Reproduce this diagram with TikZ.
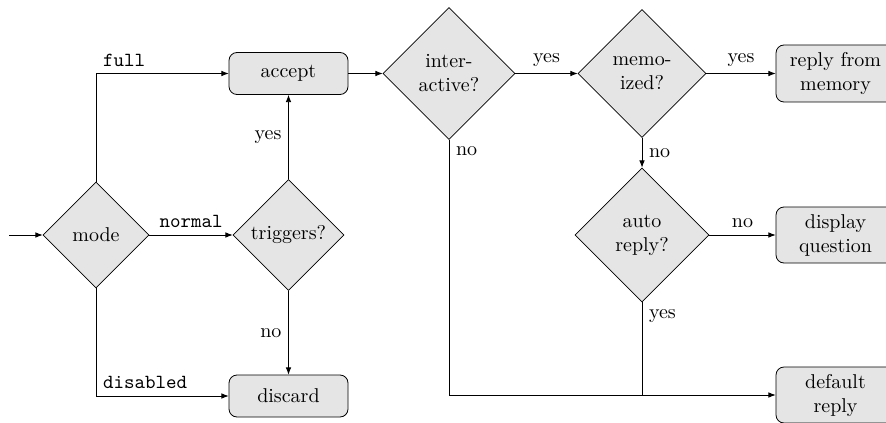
\documentclass[tikz,border=0pt]{standalone}
\usetikzlibrary{shapes.geometric,arrows.meta}
\begin{document}
\begin{tikzpicture}[x=0.5pt,y=-0.5pt,
  >={Latex[length=3.6pt,width=2.8pt]},
  dec/.style={diamond, draw, fill=gray!20, inner sep=0pt, align=center},
  box/.style={rectangle, rounded corners=4pt, draw, fill=gray!20, minimum width=59.5pt, align=center, inner sep=2pt},
  ttl/.style={font=\ttfamily}
]
\useasboundingbox (0,0) rectangle (886,422);
\clip (0,0) rectangle (886,422);

\coordinate (start) at (9,235);
\node[dec, minimum width=53pt, minimum height=53pt] (mode) at (96,235) {mode};
\node[dec, minimum width=55.5pt, minimum height=55.5pt] (trig) at (288.5,235) {triggers?};
\node[box, minimum height=21pt] (accept) at (288.5,73.5) {accept};
\node[box, minimum height=21pt] (discard) at (288.5,396) {discard};
\node[dec, minimum width=66pt, minimum height=66pt] (inter) at (449,73.5) {inter-\\active?};
\node[dec, minimum width=64pt, minimum height=64pt] (memo) at (642,73.5) {memo-\\ized?};
\node[box, minimum height=28.5pt] (rmem) at (835.5,73.5) {reply from\\memory};
\node[dec, minimum width=67pt, minimum height=67pt] (auto) at (642,235) {auto\\reply?};
\node[box, minimum height=28pt] (disp) at (835.5,235) {display\\question};
\node[box, minimum height=28pt] (def) at (835.5,395) {default\\reply};

\draw[->] (start) -- (mode.west);
\draw[->] (mode.east) -- node[midway, above, ttl] {normal} (trig.west);
\draw[->] (mode.north) |- node[pos=0.5, above right, ttl] {full} (accept.west);
\draw[->] (mode.south) |- node[pos=0.5, above right, ttl] {disabled} (discard.west);
\draw[->] (trig.north) -- node[midway, left] {yes} (accept.south);
\draw[->] (trig.south) -- node[midway, left] {no} (discard.north);
\draw[->] (accept.east) -- (inter.west);
\draw[->] (inter.east) -- node[midway, above] {yes} (memo.west);
\draw[->] (memo.east) -- node[midway, above] {yes} (rmem.west);
\draw[->] (memo.south) -- node[midway, right] {no} (auto.north);
\draw[->] (auto.east) -- node[midway, above] {no} (disp.west);
\draw[->] (inter.south) |- node[pos=0, below right] {no} (def.west);
\coordinate (join) at (auto.south |- def.west);
\draw (auto.south) -- node[pos=0, below right] {yes} (join);
\end{tikzpicture}
\end{document}
